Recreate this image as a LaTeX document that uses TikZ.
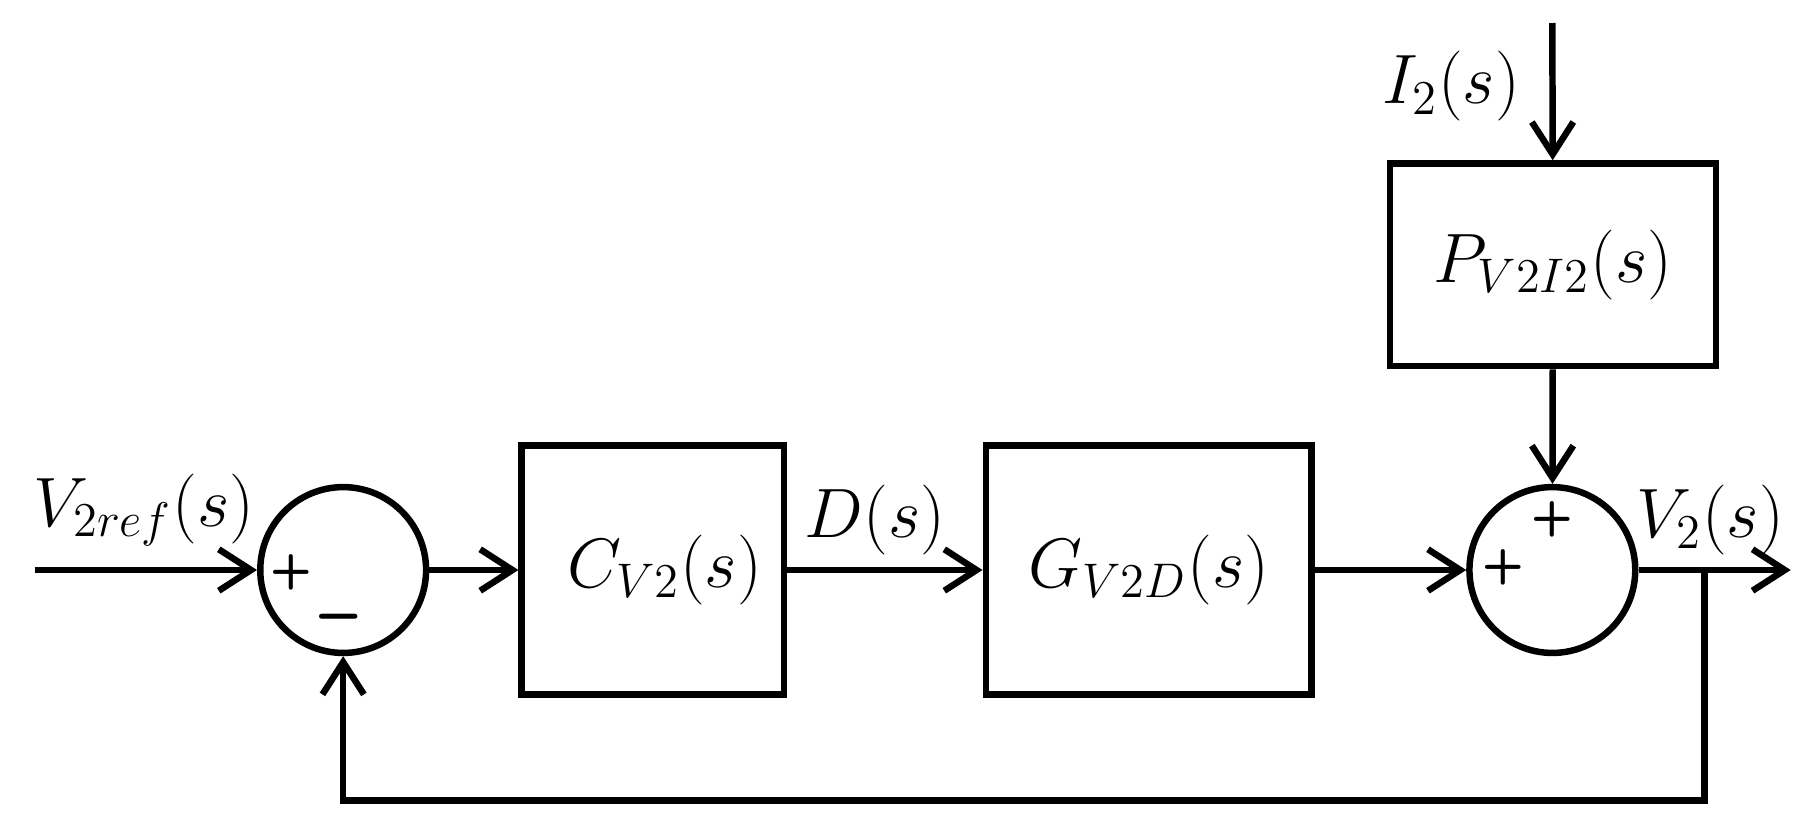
\documentclass[tikz,border=0pt]{standalone}
\usepackage{amsmath,amssymb}
\usetikzlibrary{arrows.meta}

\begin{document}
\begin{tikzpicture}[line width=1.6pt,
		blk/.style={draw,rectangle,inner sep=0pt,font=\LARGE},
		sumnode/.style={draw,circle,minimum size=1.44cm,inner sep=0pt},
		sig/.style={-{Straight Barb[length=2.8mm,width=3.6mm]}},
		lbl/.style={font=\LARGE,inner sep=0pt},
		sgn/.style={font=\large\sffamily\bfseries,inner sep=0pt}]
		\useasboundingbox (0,0) rectangle (15.7,7.23);
		\node[sumnode] (sin) at (2.98,2.28) {};
		\node[sumnode] (sout) at (13.48,2.28) {};
		\node[blk,minimum width=2.28cm,minimum height=2.16cm] (cv) at (5.67,2.28) {\hspace{0.2cm}$C_{V2}(s)$};
		\node[blk,minimum width=2.83cm,minimum height=2.16cm] (gvd) at (9.975,2.28) {$G_{V2D}(s)$};
		\node[blk,minimum width=2.83cm,minimum height=1.76cm] (pvi) at (13.485,4.93) {$P_{V2I2}(s)$};
		\coordinate (vin) at (0.30,2.28);
		\coordinate (vout) at (15.55,2.28);
		\coordinate (br) at (14.80,2.28);
		\coordinate (fb) at (14.80,0.28);
		\coordinate (iin) at (13.48,7.03);
		\draw[sig] (vin) -- (sin);
		\draw[sig] (sin) -- (cv);
		\draw[sig] (cv) -- (gvd);
		\draw[sig] (gvd) -- (sout);
		\draw[sig] (iin) -- (pvi);
		\draw[sig] (pvi) -- (sout);
		\draw[sig] (sout) -- (vout);
		\draw[sig] (br) -- (fb) -| (sin);
		\node[lbl] (vref) at (1.25,2.80) {$V_{2ref}(s)$};
		\node[lbl] (dlbl) at (7.6,2.71) {$D(s)$};
		\node[lbl] (ilbl) at (12.60,6.48) {$I_2(s)$};
		\node[lbl] (vlbl) at (14.85,2.71) {$V_2(s)$};
		\node[sgn] (p1) at (2.53,2.26) {+};
		\node[sgn,font=\LARGE\sffamily\bfseries] (m1) at (2.94,1.80) {--};
		\node[sgn] (p2) at (13.05,2.30) {+};
		\node[sgn] (p3) at (13.48,2.72) {+};
\end{tikzpicture}
\end{document}
